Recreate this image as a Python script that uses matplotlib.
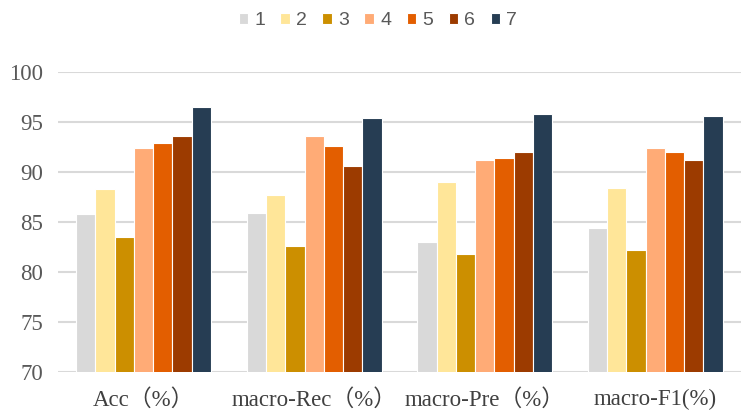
import numpy as np
import matplotlib.pyplot as plt

# Data
categories = ['Acc（%）', 'macro-Rec（%）', 'macro-Pre（%）', 'macro-F1(%)']
series_names = ['1', '2', '3', '4', '5', '6', '7']
s1 = [85.8, 85.9, 83.0, 84.4]
s2 = [88.3, 87.7, 89.0, 88.4]
s3 = [83.5, 82.6, 81.8, 82.2]
s4 = [92.4, 93.6, 91.2, 92.4]
s5 = [92.9, 92.6, 91.4, 92.0]
s6 = [93.6, 90.6, 92.0, 91.2]
s7 = [96.5, 95.4, 95.8, 95.6]
series = [s1, s2, s3, s4, s5, s6, s7]
colors = ['#d9d9d9', '#ffe699', '#cc8f00', '#ffab76', '#e35e00', '#9c3b00', '#263d53']

fig = plt.figure(figsize=(7.48, 4.17), dpi=100)
ax = fig.add_axes([0.078, 0.108, 0.912, 0.72])

x = np.arange(len(categories))
group_w = 0.79
bw = group_w / len(series)
for i, vals in enumerate(series):
    ax.bar(x - group_w / 2 + bw * (i + 0.5), vals, width=bw, color=colors[i],
           edgecolor='white', linewidth=0.8, label=series_names[i], zorder=3)

ax.set_ylim(70, 100)
ax.set_yticks(range(70, 101, 5))
ax.set_xlim(-0.5, len(categories) - 0.5)
ax.set_xticks(x)
ax.set_xticklabels(categories, family=['Liberation Serif', 'Noto Sans CJK SC'],
                   fontsize=16.5, color='#404040')
for lab in ax.get_yticklabels():
    lab.set_family('Liberation Serif')
    lab.set_fontsize(16.5)
    lab.set_color('#595959')
ax.tick_params(axis='both', length=0)
ax.tick_params(axis='x', pad=12)
ax.tick_params(axis='y', pad=11)
ax.grid(axis='y', color='#d9d9d9', linewidth=1.5, zorder=0)
for sp in ax.spines.values():
    sp.set_visible(False)

leg = fig.legend(loc='upper center', bbox_to_anchor=(0.505, 1.012), ncol=7, frameon=False,
                 handlelength=0.5, handleheight=0.5, handletextpad=0.3,
                 columnspacing=0.8, prop={'family': 'Liberation Sans', 'size': 14})
for t in leg.get_texts():
    t.set_color('#595959')

fig.savefig('out.png', dpi=100)
